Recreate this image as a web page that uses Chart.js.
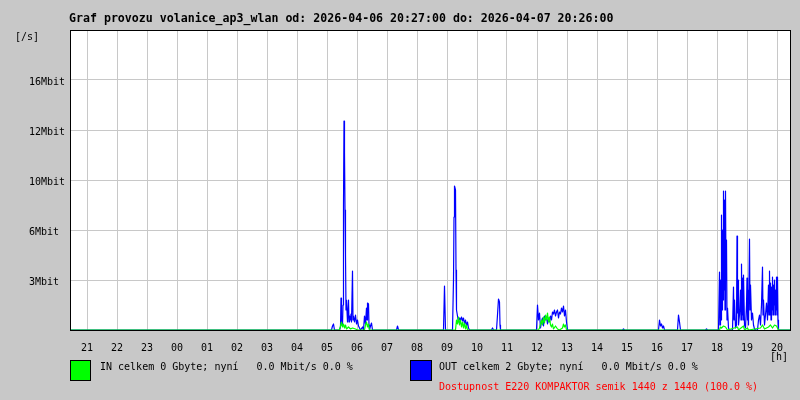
<!DOCTYPE html>
<html>
<head>
<meta charset="utf-8">
<script src="https://cdn.jsdelivr.net/npm/chart.js@4/dist/chart.umd.min.js"></script>
<style>
  body { margin: 0; background: #c8c8c8; }
  canvas { display: block; }
</style>
</head>
<body>
<canvas id="graf" width="800" height="400"></canvas>
<script>
// osa x v minutach od 20:27:00, osa y v dilcich mrizky
const hourTicks = [33, 93, 153, 213, 273, 333, 393, 453, 513, 573, 633, 693,
  753, 813, 873, 933, 993, 1053, 1113, 1173, 1233, 1293, 1353, 1413];
const hourLabels = ['21', '22', '23', '00', '01', '02', '03', '04', '05', '06', '07', '08',
  '09', '10', '11', '12', '13', '14', '15', '16', '17', '18', '19', '20'];
const yLabels = ['', '3Mbit', '6Mbit', '10Mbit', '12Mbit', '16Mbit', ''];

const outMin = [0,
  522, 524, 526, 528,
  538, 540, 541, 542, 544, 545, 546, 547, 548, 549, 550, 551, 552, 554, 556, 557, 558, 560, 561, 562,
  564, 565, 566, 568, 570, 572, 574, 576, 578, 580, 584, 586, 588, 590, 592, 593, 594, 596, 597, 598,
  600, 602, 604,
  652, 654, 656,
  746, 748, 750,
  764, 766, 767, 768, 770, 771, 772, 774, 776, 778, 780, 782, 784, 786, 788, 790, 792, 794, 796, 798,
  842, 844, 846,
  852, 854, 856, 858, 859, 860,
  932, 934, 936, 938, 940, 942, 944, 946, 948, 950, 952, 954, 956, 958, 960, 962, 964, 966, 968, 970,
  972, 974, 976, 978, 980, 982, 984, 986, 988, 990, 992, 994,
  1104, 1106, 1108,
  1176, 1178, 1180, 1182, 1184, 1186, 1188,
  1214, 1216, 1218, 1220,
  1270, 1272, 1274,
  1296, 1298, 1299, 1300, 1301, 1302, 1303, 1304, 1305, 1306, 1307, 1308, 1309, 1310, 1311, 1312,
  1313, 1314, 1316, 1318,
  1324, 1326, 1327, 1328, 1330, 1332, 1333, 1334, 1335, 1336, 1338, 1340, 1341, 1342, 1343, 1344,
  1345, 1346, 1348, 1350, 1352, 1353, 1354, 1355, 1356, 1358, 1359, 1360, 1362, 1364, 1366, 1368, 1370,
  1374, 1376, 1378, 1380, 1382, 1384, 1385, 1386, 1388, 1390, 1392, 1394, 1396, 1397, 1398, 1399,
  1400, 1401, 1402, 1403, 1404, 1405, 1406, 1407, 1408, 1409, 1410, 1411, 1412, 1413, 1414, 1415, 1416,
  1439];
const outVal = [0,
  0, 0.08, 0.12, 0,
  0, 0.06, 0.64, 0.1, 0.1, 0.5, 2.5, 4.18, 3.55, 2.4, 1.5, 0.4, 0.6, 0.16, 0.6, 0.16, 0.28, 0.2, 0.32, 0.16,
  1.18, 0.2, 0.28, 0.16, 0.3, 0.12, 0.2, 0.08, 0.04, 0, 0.06, 0, 0.28, 0.12, 0.44, 0.2, 0.54, 0.52, 0.1, 0,
  0.08, 0.14, 0,
  0, 0.08, 0,
  0, 0.88, 0,
  0, 1.0, 2.26, 2.88, 2.8, 1.2, 0.4, 0.28, 0.16, 0.24, 0.2, 0.26, 0.18, 0.24, 0.12, 0.2, 0.08, 0.16, 0.04, 0,
  0, 0.04, 0,
  0, 0.3, 0.62, 0.56, 0.1, 0,
  0, 0.5, 0.2, 0.34, 0.04, 0.16, 0.24, 0.08, 0.28, 0.2, 0.26, 0.12, 0.24, 0.16, 0.28, 0.2, 0.36, 0.32, 0.4, 0.28,
  0.36, 0.4, 0.24, 0.36, 0.32, 0.44, 0.36, 0.48, 0.28, 0.4, 0.16, 0,
  0, 0.02, 0,
  0, 0.2, 0.08, 0.12, 0.04, 0.08, 0,
  0, 0.3, 0.16, 0,
  0, 0.02, 0,
  0, 1.16, 0.1, 1.0, 0.2, 2.3, 0.4, 2.0, 0.6, 2.78, 0.8, 2.6, 0.4, 2.78, 1.0, 1.8,
  0.2, 0.44, 0.04, 0,
  0, 0.86, 0.2, 0.6, 0.04, 0.1, 1.88, 0.34, 1.0, 0.1, 0.3, 0.8, 0.2, 1.32, 0.3, 1.04,
  0.2, 1.1, 0.1, 0.04, 0.5, 1.04, 0.2, 0.8, 0.1, 1.82, 0.4, 0.9, 0.2, 0.34, 0.1, 0.02, 0,
  0, 0.2, 0.3, 0.1, 0.5, 1.26, 0.3, 0.6, 0.1, 0.3, 0.54, 0.2, 0.9, 0.3, 1.18, 0.3,
  0.94, 0.2, 0.86, 0.4, 1.06, 0.3, 0.9, 0.5, 1.0, 0.3, 0.8, 0.4, 1.06, 0.3, 1.06, 0.2, 0,
  0];

const inMin = [0,
  538, 540, 542, 544, 546, 548, 550, 552, 556, 560, 564, 570, 574, 588, 590, 592, 594, 596, 598,
  770, 772, 774, 776, 778, 780, 782, 784, 786, 788, 790, 792, 794,
  936, 938, 942, 944, 946, 948, 950, 952, 954, 956, 958, 960, 962, 964, 966, 970, 974, 978,
  984, 986, 988, 990, 992,
  1298, 1300, 1302, 1306, 1310, 1314, 1334, 1336, 1346, 1348, 1354, 1356,
  1380, 1384, 1388, 1396, 1400, 1404, 1408, 1412, 1416,
  1439];
const inVal = [0,
  0, 0.08, 0.16, 0.06, 0.12, 0.04, 0.1, 0.02, 0.06, 0.02, 0.04, 0.02, 0, 0, 0.1, 0.16, 0.06, 0.12, 0,
  0, 0.2, 0.12, 0.26, 0.1, 0.2, 0.06, 0.16, 0.04, 0.14, 0.02, 0.1, 0,
  0, 0.04, 0.2, 0.1, 0.26, 0.14, 0.3, 0.2, 0.34, 0.16, 0.26, 0.1, 0.06, 0.12, 0.02, 0.08, 0.02, 0,
  0.04, 0.12, 0.06, 0.1, 0,
  0, 0.06, 0.04, 0.08, 0.06, 0, 0.06, 0, 0.08, 0, 0.04, 0,
  0.04, 0.1, 0.02, 0.06, 0.1, 0.04, 0.1, 0.08, 0,
  0];

const titleText = 'Graf provozu volanice_ap3_wlan od: 2026-04-06 20:27:00 do: 2026-04-07 20:26:00';
const inText = 'IN celkem 0 Gbyte; nyní   0.0 Mbit/s 0.0 %';
const outText = 'OUT celkem 2 Gbyte; nyní   0.0 Mbit/s 0.0 %';
const availText = 'Dostupnost E220 KOMPAKTOR semik 1440 z 1440 (100.0 %)';

const mono = '"DejaVu Sans Mono", "Liberation Mono", monospace';
Chart.defaults.font.family = mono;
Chart.defaults.font.size = 10;
Chart.defaults.color = '#000';

const toPoints = (xs, ys) => xs.map((m, i) => ({ x: m, y: ys[i] }));

const mrtgLook = {
  id: 'mrtgLook',
  beforeDraw(chart) {
    const { ctx, chartArea: a } = chart;
    ctx.save();
    ctx.fillStyle = '#c8c8c8';
    ctx.fillRect(0, 0, chart.width, chart.height);
    ctx.fillStyle = '#fff';
    ctx.fillRect(a.left, a.top, a.right - a.left, a.bottom - a.top);
    ctx.restore();
  },
  afterDraw(chart) {
    const { ctx, chartArea: a } = chart;
    ctx.save();
    ctx.strokeStyle = '#000';
    ctx.lineWidth = 1;
    ctx.strokeRect(a.left + 0.5, a.top + 0.5, a.right - a.left, a.bottom - a.top);

    ctx.textBaseline = 'middle';
    ctx.fillStyle = '#000';
    ctx.font = 'bold 11.6px ' + mono;
    ctx.fillText(titleText, 69, 19);

    ctx.font = '10px ' + mono;
    ctx.fillText('[/s]', 15, 37);
    ctx.textAlign = 'center';
    ctx.fillText('[h]', 779, 357);
    ctx.textAlign = 'left';

    // legenda
    ctx.fillStyle = '#00ff00';
    ctx.fillRect(70, 360, 20, 20);
    ctx.strokeRect(70.5, 360.5, 20, 20);
    ctx.fillStyle = '#0000ff';
    ctx.fillRect(410, 360, 21, 20);
    ctx.strokeRect(410.5, 360.5, 21, 20);

    ctx.fillStyle = '#000';
    ctx.fillText(inText, 100, 367.5);
    ctx.fillText(outText, 439, 367.5);
    ctx.fillStyle = '#ff0000';
    ctx.fillText(availText, 439, 387.5);
    ctx.restore();
  }
};

new Chart(document.getElementById('graf'), {
  type: 'line',
  data: {
    datasets: [
      {
        label: 'IN',
        data: toPoints(inMin, inVal),
        borderColor: '#00ff00',
        borderWidth: 1.2,
        borderJoinStyle: 'round',
        pointRadius: 0,
        tension: 0
      },
      {
        label: 'OUT',
        data: toPoints(outMin, outVal),
        borderColor: '#0000ff',
        borderWidth: 1.2,
        borderJoinStyle: 'round',
        pointRadius: 0,
        tension: 0
      }
    ]
  },
  options: {
    responsive: false,
    devicePixelRatio: 1,
    animation: false,
    layout: { padding: { left: 29, top: 30, right: 10, bottom: 0 } },
    plugins: { legend: { display: false }, tooltip: { enabled: false } },
    scales: {
      x: {
        type: 'linear',
        min: -1,
        max: 1439,
        afterBuildTicks: (scale) => { scale.ticks = hourTicks.map(v => ({ value: v })); },
        afterFit: (scale) => { scale.height = 70; },
        ticks: {
          autoSkip: false,
          maxRotation: 0,
          padding: 12,
          callback: (v) => hourLabels[hourTicks.indexOf(v)]
        },
        grid: { color: '#c8c8c8', drawTicks: false },
        border: { display: false }
      },
      y: {
        min: 0,
        max: 6,
        afterFit: (scale) => { scale.width = 41; },
        ticks: {
          stepSize: 1,
          crossAlign: 'far',
          labelOffset: 2,
          callback: (v) => yLabels[v]
        },
        grid: { color: '#c8c8c8', drawTicks: false },
        border: { display: false }
      }
    }
  },
  plugins: [mrtgLook]
});
</script>
</body>
</html>
